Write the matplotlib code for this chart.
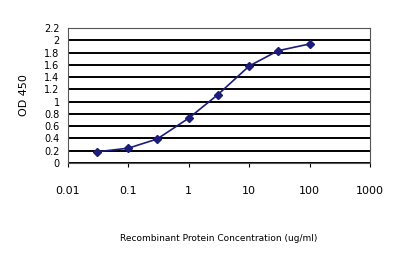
import matplotlib
matplotlib.use("Agg")
import matplotlib.pyplot as plt
import numpy as np

conc = [0.03, 0.1, 0.3, 1, 3, 10, 30, 100]
od = [0.18, 0.24, 0.39, 0.73, 1.11, 1.58, 1.83, 1.94]
yticks = [0, 0.2, 0.4, 0.6, 0.8, 1, 1.2, 1.4, 1.6, 1.8, 2, 2.2]
xticks = [0.01, 0.1, 1, 10, 100, 1000]
xticklabels = ["0.01", "0.1", "1", "10", "100", "1000"]

fig = plt.figure(figsize=(4, 2.67), dpi=100)
ax = fig.add_axes([0.17, 0.39, 0.755, 0.505])

ax.plot(conc, od, color="#1c1c7a", linewidth=1.2, marker="D", markersize=4,
        markerfacecolor="#1c1c7a", markeredgecolor="#1c1c7a")

ax.set_xscale("log")
ax.set_xlim(0.01, 1000)
ax.set_ylim(0, 2.2)
ax.set_xticks(xticks)
ax.set_xticklabels(xticklabels, fontsize=8)
ax.minorticks_off()
ax.set_yticks(yticks)
ax.set_yticklabels([f"{v:g}" for v in yticks], fontsize=7)
ax.yaxis.grid(True, color="black", linewidth=1.4)
ax.tick_params(axis="x", length=3, pad=14)
ax.tick_params(axis="y", length=0, pad=6)
for s in ax.spines.values():
    s.set_color("#555555")
    s.set_linewidth(0.8)

ax.set_ylabel("OD 450", fontsize=8, labelpad=11)
ax.set_xlabel("Recombinant Protein Concentration (ug/ml)", fontsize=6.5, labelpad=27)

fig.savefig("out.png", dpi=100)
